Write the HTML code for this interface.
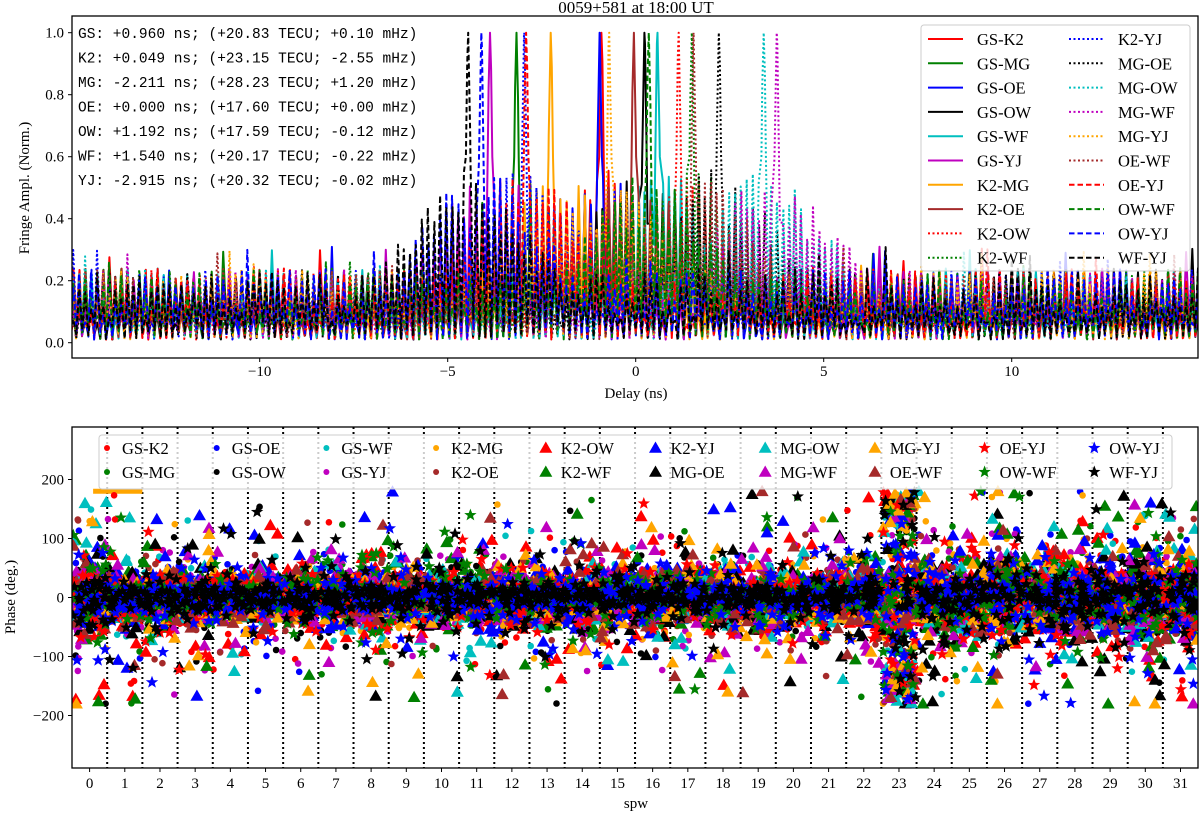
<!DOCTYPE html>
<html><head><meta charset="utf-8">
<style>
html,body{margin:0;padding:0;background:#fff;}
svg{display:block;font-family:"Liberation Serif",serif;}
.mono{font-family:"Liberation Mono",monospace;white-space:pre;}
</style></head>
<body>
<svg id="fig" width="1200" height="815" viewBox="0 0 1200 815" xmlns="http://www.w3.org/2000/svg">
<defs>
<clipPath id="clipTop"><rect x="72" y="16" width="1126" height="342"/></clipPath>
<clipPath id="clipBot"><rect x="72" y="427" width="1126" height="341"/></clipPath>
<path id="tri" d="M0,-6.5 L6.5,4.8 L-6.5,4.8 Z"/>
<path id="star" d="M0,-6.5 L1.7,-2.1 L6.2,-2 L2.6,0.8 L3.9,5.3 L0,2.7 L-3.9,5.3 L-2.6,0.8 L-6.2,-2 L-1.7,-2.1 Z"/>
</defs>
<text x="636" y="13" text-anchor="middle" font-size="17">0059+581 at 18:00 UT</text>
<g id="topPanel"></g>
<g id="botPanel"></g>
</svg>
<script>
// ---------------- DATA ----------------
const baselines = ["GS-K2","GS-MG","GS-OE","GS-OW","GS-WF","GS-YJ","K2-MG","K2-OE","K2-OW","K2-WF","K2-YJ","MG-OE","MG-OW","MG-WF","MG-YJ","OE-WF","OE-YJ","OW-WF","OW-YJ","WF-YJ"];
const stations = ["GS","K2","MG","OE","OW","WF","YJ"];
const stationDelays = [0.960, 0.049, -2.211, 0.000, 1.192, 1.540, -2.915];
const stationTEC = ["+20.83","+23.15","+28.23","+17.60","+17.59","+20.17","+20.32"];
const stationRate = ["+0.10","-2.55","+1.20","+0.00","-0.12","-0.22","-0.02"];
const stationDelayLabels = ["+0.960","+0.049","-2.211","+0.000","+1.192","+1.540","-2.915"];
const peakAmps = [1,1,1,1,1,1,1,1,1,1,1,1,1,1,1,1,1,1,1,1];
const delayTicks = [-10,-5,0,5,10];
const ampTicks = [0.0,0.2,0.4,0.6,0.8,1.0];
const spwTicks = [0,1,2,3,4,5,6,7,8,9,10,11,12,13,14,15,16,17,18,19,20,21,22,23,24,25,26,27,28,29,30,31];
const phaseTicks = [-200,-100,0,100,200];
const spwSpread = [30,20,20,20,20,20,20,20,20,20,20,20,20,20,20,20,20,20,20,20,20,20,22,30,26,26,28,28,28,28,30,30];
const colors = ["#ff0000","#008000","#0000ff","#000000","#00bfbf","#bf00bf","#ffa500","#a52a2a"];
// --------------------------------------
const NS="http://www.w3.org/2000/svg";
function mk(tag,attrs,parent){const e=document.createElementNS(NS,tag);for(const k in attrs)e.setAttribute(k,attrs[k]);if(parent)parent.appendChild(e);return e;}
let seed=12345;function rnd(){seed|=0;seed=seed+0x6D2B79F5|0;let t=Math.imul(seed^seed>>>15,1|seed);t=t+Math.imul(t^t>>>7,61|t)^t;return((t^t>>>14)>>>0)/4294967296;}
function gauss(){let u=rnd()||1e-9,v=rnd();return Math.sqrt(-2*Math.log(u))*Math.cos(2*Math.PI*v);}

// ---- top panel ----
const topG=document.getElementById('topPanel');
const X=d=>635.7+(d)*37.6, Y=a=>342.7-a*310;
function peakDelay(name){const [a,b]=name.split('-');return stationDelays[stations.indexOf(b)]-stationDelays[stations.indexOf(a)];}
const plotT=mk('g',{'clip-path':'url(#clipTop)'},topG);


baselines.forEach((bl,i)=>{
  const p=peakDelay(bl), amp=peakAmps[i];
  const step=0.08; let pts=[];
  for(let k=0;k<=380;k++){
    const x=-15.2+k*step+(rnd()-0.5)*0.02; const near=Math.abs(x-p);
    let v;
    if(k%2===0) v=0.01+rnd()*0.06;
    else{
      let hi=0.06+rnd()*0.18;
      if(rnd()<0.05) hi+=0.07;
      if(near<5){const env=0.56*Math.exp(-Math.pow(near/2.6,2));hi=Math.max(hi,env*(0.65+0.35*rnd()));}
      v=hi;
    }
    const g=amp*Math.exp(-(near*near)/(2*0.06*0.06));
    v=Math.max(v,g);
    pts.push([x,v]);
  }
  pts.push([p,amp]);pts.push([p-0.06,amp*0.6]);pts.push([p+0.06,amp*0.6]);
  pts.sort((a,b)=>a[0]-b[0]);
  const d='M'+pts.map(q=>X(q[0]).toFixed(1)+','+Y(q[1]).toFixed(1)).join('L');
  const style=i<8?'none':(i<16?'2,2.5':'5.5,3');
  const path=mk('path',{d:d,fill:'none',stroke:colors[i%8],'stroke-width':'2','stroke-dasharray':style,'stroke-linejoin':'round'},plotT);
  
  
});
mk('rect',{x:72,y:16,width:1126,height:342,fill:'none',stroke:'#000','stroke-width':1.3},topG);
delayTicks.forEach(t=>{
  mk('line',{x1:X(t),x2:X(t),y1:358,y2:362,stroke:'#000'},topG);
  const tx=mk('text',{x:X(t),y:376,'text-anchor':'middle','font-size':15},topG);tx.textContent=(t<0?'\u2212':'')+Math.abs(t);
  
  
});
ampTicks.forEach(t=>{
  mk('line',{x1:68,x2:72,y1:Y(t),y2:Y(t),stroke:'#000'},topG);
  const tx=mk('text',{x:64,y:Y(t)+5,'text-anchor':'end','font-size':15},topG);tx.textContent=t.toFixed(1);
  
  
});
let t1=mk('text',{x:636,y:398,'text-anchor':'middle','font-size':15},topG);t1.textContent='Delay (ns)';


t1=mk('text',{x:29,y:188,'text-anchor':'middle','font-size':15,transform:'rotate(-90 29 188)'},topG);t1.textContent='Fringe Ampl. (Norm.)';


stations.forEach((s,i)=>{
  const tx=mk('text',{x:78,y:38+i*24.5,'font-size':14.5,'class':'mono'},topG);
  tx.textContent=s+': '+stationDelayLabels[i]+' ns; ('+stationTEC[i]+' TECU; '+stationRate[i]+' mHz)';
  
  
});
const legT=mk('g',{},topG);


mk('rect',{x:921,y:25,width:269,height:246,rx:3,fill:'#fff','fill-opacity':0.8,stroke:'#ccc'},legT);
baselines.forEach((bl,i)=>{
  const col=i<10?0:1,row=i%10; const y=39+row*24.3; const x0=col?1069:928;
  const style=i<8?'none':(i<16?'2,2.5':'5.5,3');
  mk('line',{x1:x0,x2:x0+35,y1:y,y2:y,stroke:colors[i%8],'stroke-width':2,'stroke-dasharray':style},legT);
  const tx=mk('text',{x:x0+49,y:y+6,'font-size':16.5},legT);tx.textContent=bl;
  
  
});

// ---- bottom panel ----
const botG=document.getElementById('botPanel');
const SX=s=>72+(s+0.5)*35.19, PY=ph=>597.5-ph*0.59;
const plotB=mk('g',{'clip-path':'url(#clipBot)'},botG);


for(let s=0;s<31;s++){
  const l=mk('line',{x1:SX(s+0.5),x2:SX(s+0.5),y1:427,y2:768,stroke:'#000','stroke-width':2,'stroke-dasharray':'2,3'},plotB);
  
  
}
const orangeSeg=mk('line',{x1:SX(0.1),x2:SX(1.5),y1:PY(180),y2:PY(180),stroke:'#ffa500','stroke-width':5},plotB);


baselines.forEach((bl,i)=>{
  const g=mk('g',{fill:colors[i%8]},plotB);
  
  
  const n=i>=16?30:20;
  spwTicks.forEach(s=>{
    for(let k=0;k<n;k++){
      const x=s-0.48+rnd()*0.96;
      let ph; const r=rnd(); const sp=spwSpread[s];
      if(s===23){
        if(r<0.45){ph=(rnd()<0.5?1:-1)*(110+rnd()*70);}
        else if(r<0.6) ph=rnd()*360-180;
        else ph=gauss()*35;
      }
      else if(r<0.82) ph=gauss()*sp;
      else if(r<0.97) ph=gauss()*sp*2.6;
      else ph=(rnd()*2-1)*180;
      if(i>=16 && rnd()<0.6) ph*=0.6;
      ph=Math.max(-180,Math.min(180,ph));
      let m;
      if(i<8) m=mk('circle',{cx:SX(x).toFixed(1),cy:PY(ph).toFixed(1),r:3.3},g);
      else m=mk('use',{href:i<16?'#tri':'#star',transform:'translate('+SX(x).toFixed(1)+','+PY(ph).toFixed(1)+')'},g);
      
      
    }
  });
});
mk('rect',{x:72,y:427,width:1126,height:341,fill:'none',stroke:'#000','stroke-width':1.3},botG);
spwTicks.forEach(t=>{
  mk('line',{x1:SX(t),x2:SX(t),y1:768,y2:772,stroke:'#000'},botG);
  const tx=mk('text',{x:SX(t),y:788,'text-anchor':'middle','font-size':15},botG);tx.textContent=t;
  
  
});
phaseTicks.forEach(t=>{
  mk('line',{x1:68,x2:72,y1:PY(t),y2:PY(t),stroke:'#000'},botG);
  const tx=mk('text',{x:64,y:PY(t)+5,'text-anchor':'end','font-size':15},botG);tx.textContent=(t<0?'\u2212':'')+Math.abs(t);
  
  
});
t1=mk('text',{x:636,y:808,'text-anchor':'middle','font-size':15},botG);t1.textContent='spw';


t1=mk('text',{x:15,y:597,'text-anchor':'middle','font-size':15,transform:'rotate(-90 15 597)'},botG);t1.textContent='Phase (deg.)';


const legB=mk('g',{},botG);


mk('rect',{x:99,y:435,width:1073,height:54,rx:3,fill:'#fff','fill-opacity':0.8,stroke:'#ccc'},legB);
baselines.forEach((bl,i)=>{
  const col=Math.floor(i/2),row=i%2; const y=448+row*24; const x0=107+col*109.7;
  let m;
  if(i<8) m=mk('circle',{cx:x0,cy:y,r:3,fill:colors[i%8]},legB);
  else m=mk('use',{href:i<16?'#tri':'#star',fill:colors[i%8],transform:'translate('+x0+','+y+')'},legB);
  const tx=mk('text',{x:x0+15,y:y+6,'font-size':16.5},legB);tx.textContent=bl;
  
  
});
</script>
</body></html>
